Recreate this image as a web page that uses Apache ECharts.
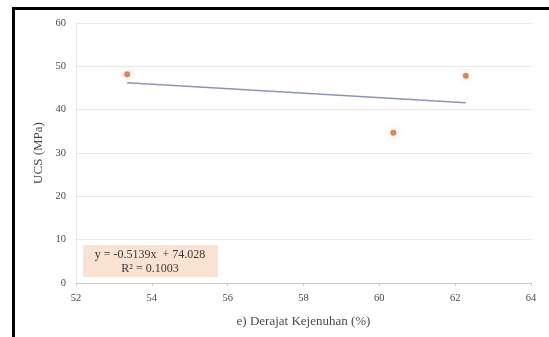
<!DOCTYPE html>
<html>
<head>
<meta charset="utf-8">
<script src="https://cdn.jsdelivr.net/npm/echarts@6/dist/echarts.min.js"></script>
<style>
html,body{margin:0;padding:0;background:#fff;}
#chart{width:549px;height:337px;}
</style>
</head>
<body>
<div id="chart"></div>
<script>
var xValues = [53.35, 60.37, 62.28];
var yValues = [48.2, 34.7, 47.8];
var trendX = [53.35, 62.28];
var trendY = [46.2, 41.6];
var xTicks = {min: 52, max: 64, interval: 2};
var yTicks = {min: 0, max: 60, interval: 10};
var equationLines = ['y = -0.5139x  + 74.028', 'R² = 0.1003'];
var xTitle = 'e) Derajat Kejenuhan (%)';
var yTitle = 'UCS (MPa)';

var pts = xValues.map(function(x,i){return [x, yValues[i]];});
var trend = trendX.map(function(x,i){return [x, trendY[i]];});
var font = '"Liberation Serif", "DejaVu Serif", serif';

var chart = echarts.init(document.getElementById('chart'));
chart.setOption({
  animation: false,
  backgroundColor: '#fff',
  grid: {left: 76, right: 18, top: 23, bottom: 54},
  xAxis: {
    type: 'value', min: xTicks.min, max: xTicks.max, interval: xTicks.interval,
    name: xTitle, nameLocation: 'middle', nameGap: 32,
    nameTextStyle: {fontFamily: font, fontSize: 13, color: '#4a4a4a'},
    axisLine: {show: true, lineStyle: {color: '#c8c8c8', width: 1}},
    axisTick: {show: true, length: 3, lineStyle: {color: '#c8c8c8'}},
    axisLabel: {fontFamily: font, fontSize: 10.5, color: '#4a4a4a', margin: 10},
    splitLine: {show: false}
  },
  yAxis: {
    type: 'value', min: yTicks.min, max: yTicks.max, interval: yTicks.interval,
    name: yTitle, nameLocation: 'middle', nameGap: 27, nameRotate: 90,
    nameTextStyle: {fontFamily: font, fontSize: 13, color: '#4a4a4a'},
    axisLine: {show: true, lineStyle: {color: '#ececec', width: 1}},
    axisTick: {show: false},
    axisLabel: {fontFamily: font, fontSize: 10.5, color: '#4a4a4a', margin: 10},
    splitLine: {show: true, lineStyle: {color: '#e8e8e8', width: 1}}
  },
  series: [
    {
      type: 'line', data: trend, symbol: 'none', silent: true,
      lineStyle: {color: '#8c94b4', width: 1.5}, z: 2
    },
    {
      type: 'scatter', data: pts, symbol: 'circle', symbolSize: 6,
      itemStyle: {color: '#d2683a', shadowBlur: 7, shadowColor: 'rgba(237,125,49,0.5)'}, z: 3
    }
  ],
  graphic: [
    {type: 'rect', shape: {x: 13.5, y: 8.5, width: 560, height: 360},
     style: {fill: 'none', stroke: '#000', lineWidth: 3}, z: 10},
    {type: 'rect', shape: {x: 83, y: 245, width: 135, height: 32},
     style: {fill: '#fbe3d3', stroke: 'none'}, z: 5},
    {type: 'text', x: 150, y: 255, z: 6,
     style: {text: equationLines[0], fontFamily: font, fontSize: 12, fill: '#3a3a3a', textAlign: 'center', textVerticalAlign: 'middle'}},
    {type: 'text', x: 150, y: 269, z: 6,
     style: {text: equationLines[1], fontFamily: font, fontSize: 12, fill: '#3a3a3a', textAlign: 'center', textVerticalAlign: 'middle'}}
  ]
});
</script>
</body>
</html>
